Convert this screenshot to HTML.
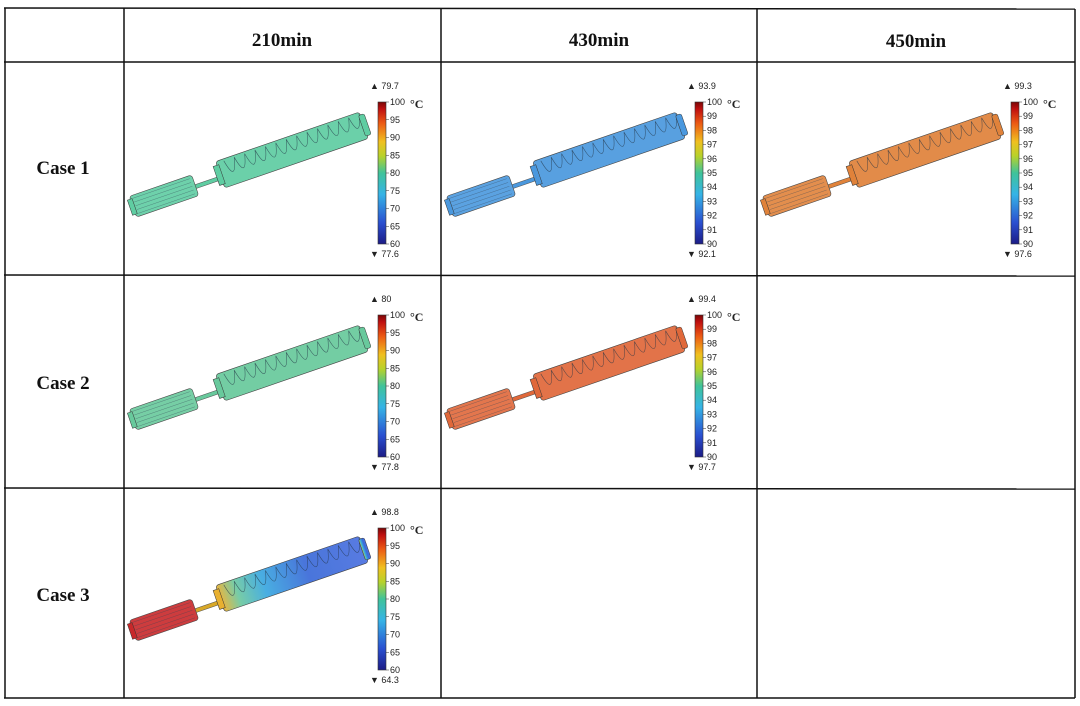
<!DOCTYPE html>
<html><head><meta charset="utf-8"><style>
body{margin:0;background:#fff;width:1080px;height:706px;overflow:hidden}
svg{display:block}
</style></head><body>
<svg id="s" width="1080" height="706" viewBox="0 0 1080 706" xmlns="http://www.w3.org/2000/svg">
<defs>
<linearGradient id="jet" x1="0" y1="1" x2="0" y2="0">
<stop offset="0" stop-color="#1c1c86"/><stop offset="0.15" stop-color="#2a4fd0"/><stop offset="0.35" stop-color="#36b4e6"/><stop offset="0.5" stop-color="#3fc39a"/><stop offset="0.62" stop-color="#b8d22a"/><stop offset="0.72" stop-color="#f0c020"/><stop offset="0.85" stop-color="#ec5a14"/><stop offset="0.95" stop-color="#c01010"/><stop offset="1" stop-color="#7a0606"/>
</linearGradient>
<linearGradient id="case3grad" x1="0" y1="0" x2="1" y2="0">
<stop offset="0" stop-color="#e8b030"/><stop offset="0.12" stop-color="#6cc8a0"/><stop offset="0.3" stop-color="#3aa8e0"/><stop offset="0.6" stop-color="#3a6ad8"/><stop offset="1" stop-color="#4a70e0"/>
</linearGradient>
</defs>
<g id="grid" stroke="#111" stroke-width="1.5">
<line x1="4" y1="8" x2="1075" y2="9"/><line x1="4" y1="62" x2="1075" y2="62"/>
<line x1="4" y1="275" x2="1075" y2="276"/><line x1="4" y1="488" x2="1075" y2="489"/>
<line x1="4" y1="698" x2="1075" y2="698"/>
<line x1="5" y1="8" x2="5" y2="698"/><line x1="124" y1="8" x2="124" y2="698"/>
<line x1="441" y1="8" x2="441" y2="698"/><line x1="757" y1="9" x2="757" y2="698"/>
<line x1="1075" y1="9" x2="1075" y2="698"/>
</g>
<g font-family="Liberation Serif, serif" font-weight="bold" font-size="19" text-anchor="middle" fill="#111">
<text x="282" y="46">210min</text>
<text x="599" y="46">430min</text>
<text x="916" y="47">450min</text>
<text x="63" y="174">Case 1</text>
<text x="63" y="389">Case 2</text>
<text x="63" y="601">Case 3</text>
</g>
<g id="cells"></g>
</svg>
<script>
const cellX=[124,441,757,124,441,124];
const cellY=[62,62,62,275,275,488];
const cellColor=["#5fcda2","#4a98de","#e0823a","#68c99c","#e0683a","grad"];
const maxVals=["79.7","93.9","99.3","80","99.4","98.8"];
const minVals=["77.6","92.1","97.6","77.8","97.7","64.3"];
const scaleTicksA=[100,95,90,85,80,75,70,65,60];
const scaleTicksB=[100,99,98,97,96,95,94,93,92,91,90];
const cellScale=["A","B","B","A","B","A"];
const NS="http://www.w3.org/2000/svg";
const root=document.getElementById('cells');
function mk(tag,attrs,parent){const e=document.createElementNS(NS,tag);for(const k in attrs)e.setAttribute(k,attrs[k]);parent.appendChild(e);return e;}
for(let i=0;i<cellX.length;i++){
  const g=mk('g',{transform:`translate(${cellX[i]},${cellY[i]})`},root);
  
  
  const dy=(i>=5)?-2:0;
  const dev=mk('g',{transform:`translate(0,${dy})`},g);
  
  
  const col=cellColor[i];
  const fillBig=col==="grad"?"url(#case3grad)":col;
  const fillSmall=col==="grad"?"#c8282a":col;
  const sc=mk('g',{transform:'translate(40,134) rotate(-19)'},dev);
  mk('rect',{x:-33,y:-11,width:66,height:22,rx:3,fill:fillSmall,stroke:'#333','stroke-width':0.6,opacity:0.9},sc);
  for(let k=-2;k<=2;k++)mk('line',{x1:-30,y1:k*4,x2:30,y2:k*4,stroke:'#345','stroke-width':0.4,opacity:0.6},sc);
  mk('rect',{x:-36,y:-8,width:5,height:16,fill:fillSmall,stroke:'#333','stroke-width':0.5},sc);
  const rd=mk('g',{transform:'translate(85,120) rotate(-19)'},dev);
  mk('rect',{x:-14,y:-2,width:28,height:4,fill:col==="grad"?"#d8a828":col,stroke:'#555','stroke-width':0.5},rd);
  const bc=mk('g',{transform:'translate(168,88) rotate(-19)'},dev);
  mk('rect',{x:-76,y:-14,width:152,height:28,rx:3,fill:fillBig,stroke:'#333','stroke-width':0.6,opacity:0.92},bc);
  let d='M-68,-12';
  for(let k=0;k<13;k++){const x=-68+k*11;d+=` Q${x+5},14 ${x+11},-12`;}
  mk('path',{d:d,fill:'none',stroke:'#234','stroke-width':0.6,opacity:0.7},bc);
  mk('rect',{x:-80,y:-10,width:6,height:20,fill:col==="grad"?"#e8b030":fillBig,stroke:'#333','stroke-width':0.5},bc);
  mk('rect',{x:74,y:-11,width:6,height:22,rx:2,fill:fillBig,stroke:'#333','stroke-width':0.5},bc);
  const cb=mk('g',{transform:'translate(254,40)'},g);
  
  
  mk('rect',{x:0,y:0,width:8,height:142,fill:'url(#jet)',stroke:'#333','stroke-width':0.6},cb);
  const ticks=cellScale[i]==="A"?scaleTicksA:scaleTicksB;
  const step=142/(ticks.length-1);
  ticks.forEach((t,j)=>{
    mk('line',{x1:8,y1:j*step,x2:11,y2:j*step,stroke:'#333','stroke-width':0.5},cb);
    const tx=mk('text',{x:12,y:j*step+3,'font-family':'Liberation Sans, sans-serif','font-size':9,fill:'#222'},cb);
    tx.textContent=t;
    
    
  });
  const u=mk('text',{x:32,y:6,'font-family':'Liberation Serif, serif','font-size':12,'font-weight':'bold',fill:'#222'},cb);
  u.textContent='°C';
  
  
  const mx=mk('text',{x:-8,y:-13,'font-family':'Liberation Sans, sans-serif','font-size':9,fill:'#222'},cb);
  mx.textContent='▲ '+maxVals[i];
  
  
  const mn=mk('text',{x:-8,y:155,'font-family':'Liberation Sans, sans-serif','font-size':9,fill:'#222'},cb);
  mn.textContent='▼ '+minVals[i];
  
  
}
</script>
</body></html>
